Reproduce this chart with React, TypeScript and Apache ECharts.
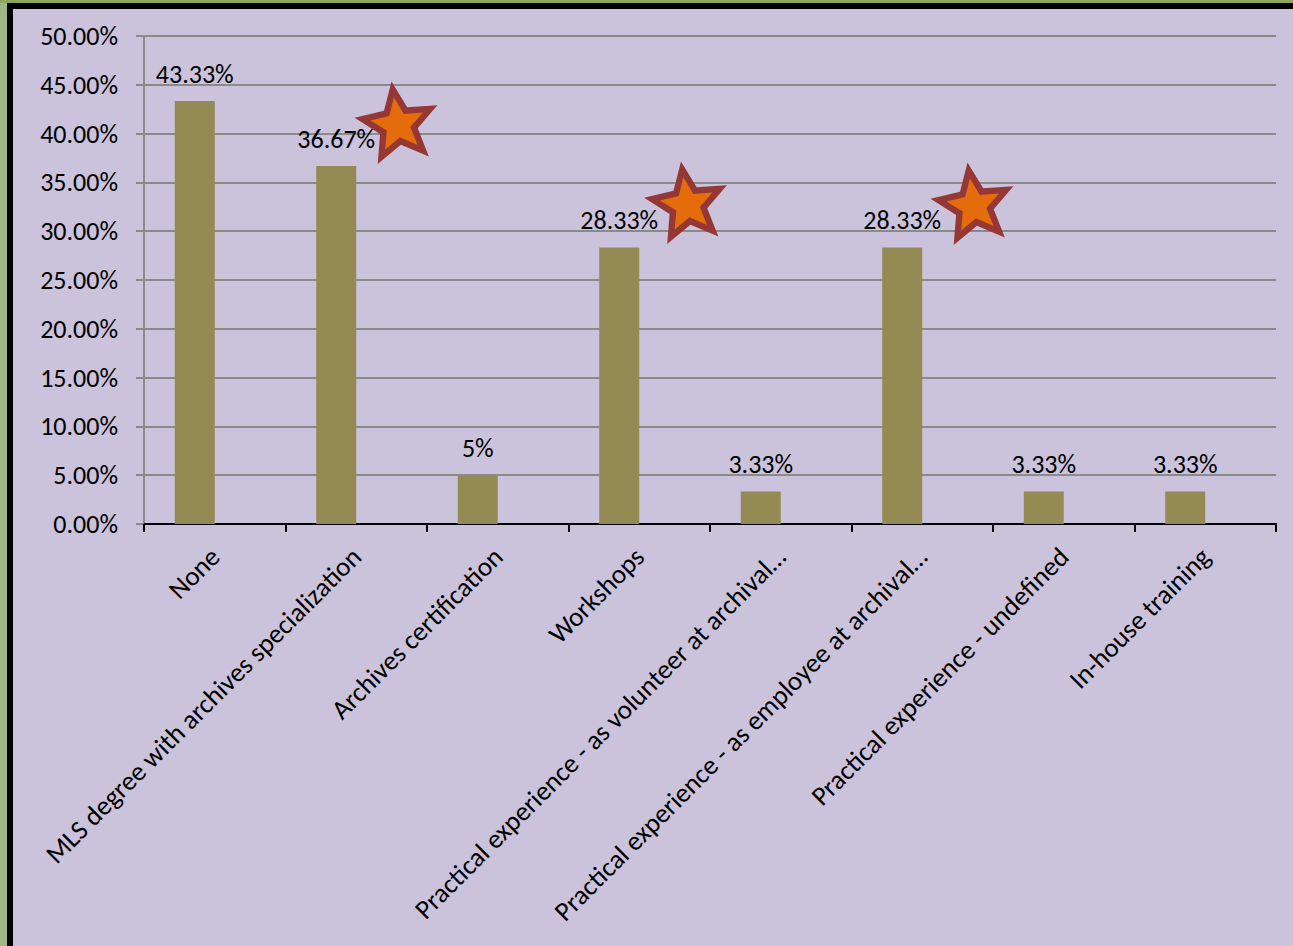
import React, { useEffect, useRef } from "react";
import * as echarts from "echarts";

const categories = [
  "None",
  "MLS degree with archives specialization",
  "Archives certification",
  "Workshops",
  "Practical experience - as volunteer at archival…",
  "Practical experience - as employee at archival…",
  "Practical experience - undefined",
  "In-house training",
];
const values = [43.33, 36.67, 5, 28.33, 3.33, 28.33, 3.33, 3.33];
const valueLabels = ["43.33%", "36.67%", "5%", "28.33%", "3.33%", "28.33%", "3.33%", "3.33%"];
const emptySeries = [null, null, null, null, null, null, null, null];

const FONT = "Carlito, Calibri, Lato, sans-serif";
const FS = 26;
const starCenters = [
  [385, 116],
  [674.5, 196],
  [961, 197],
];

function starPoints(cx: number, cy: number, R: number, r: number, rotDeg: number) {
  const pts: number[][] = [];
  for (let i = 0; i < 10; i++) {
    const rad = i % 2 === 0 ? R : r;
    const a = ((rotDeg + i * 36) * Math.PI) / 180;
    pts.push([cx + rad * Math.sin(a), cy - rad * Math.cos(a)]);
  }
  return pts;
}

export default function App() {
  const ref = useRef<HTMLDivElement>(null);
  useEffect(() => {
    if (!ref.current) return;
    const chart = echarts.init(ref.current, undefined, { renderer: "svg" });
    const graphics: any[] = [];
    starCenters.forEach(([cx, cy]) => {
      graphics.push({
        type: "polygon",
        shape: { points: starPoints(cx, cy, 44, 20, -8.5) },
        style: { fill: "#953735" },
        z: 100,
      });
      graphics.push({
        type: "polygon",
        shape: { points: starPoints(cx, cy, 28, 12.5, -8.5) },
        style: { fill: "#E46C0A" },
        z: 101,
      });
    });
    chart.setOption({
      animation: false,
      backgroundColor: "#CBC3DC",
      textStyle: { fontFamily: FONT },
      grid: { left: 131, top: 27, right: 17, bottom: 422, containLabel: false },
      xAxis: {
        type: "category",
        data: categories,
        axisLine: { lineStyle: { color: "#000", width: 2 } },
        axisTick: { show: true, length: 8, lineStyle: { color: "#000", width: 2 } },
        axisLabel: {
          rotate: 45,
          margin: 28,
          fontSize: 27,
          color: "#000",
          fontFamily: FONT,
          interval: 0,
        },
        splitLine: { show: false },
      },
      yAxis: {
        type: "value",
        min: 0,
        max: 50,
        interval: 5,
        axisLine: { show: true, lineStyle: { color: "#8A8A8A", width: 2 } },
        axisTick: { show: true, length: 8, lineStyle: { color: "#8A8A8A", width: 2 } },
        axisLabel: {
          margin: 26,
          fontSize: FS,
          color: "#000",
          fontFamily: FONT,
          formatter: (v: number) => v.toFixed(2) + "%",
        },
        splitLine: { show: true, lineStyle: { color: "#8A8A8A", width: 2 } },
      },
      series: [
        {
          type: "bar",
          data: values,
          barWidth: 40,
          barGap: "0%",
          itemStyle: { color: "#948A54" },
          label: {
            show: true,
            position: "top",
            distance: 14,
            fontSize: FS,
            color: "#000",
            fontFamily: FONT,
            formatter: (p: any) => valueLabels[p.dataIndex],
          },
        },
        {
          type: "bar",
          data: emptySeries,
          barWidth: 40,
          itemStyle: { color: "#948A54" },
        },
      ],
      graphic: graphics,
    });
    return () => chart.dispose();
  }, []);
  return (
    <div style={{ position: "fixed", left: 0, top: 0, width: 1293, height: 946, background: "#A0B683", overflow: "hidden" }}>
      <div style={{ position: "absolute", left: 0, top: 0, width: 1293, height: 3, background: "#8FA65A" }} />
      <div style={{ position: "absolute", left: 7, top: 3, width: 1286, height: 943, background: "#000" }} />
      <div ref={ref} style={{ position: "absolute", left: 13, top: 9, width: 1280, height: 937 }} />
    </div>
  );
}
